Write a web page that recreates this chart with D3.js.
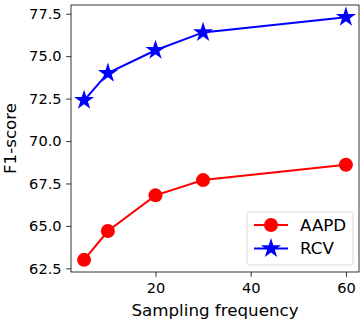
<!DOCTYPE html>
<html>
<head>
<meta charset="utf-8">
<script src="https://cdn.jsdelivr.net/npm/d3@7"></script>
<style>
    html, body { margin: 0; padding: 0; background: #fff; }
    text { font-family: "DejaVu Sans", sans-serif; fill: #000; }
</style>
</head>
<body>
<svg id="chart" width="364" height="320"></svg>
<script>
    // sampling frequencies and F1-scores
    var frequencies = [5, 10, 20, 30, 60];
    var aapdScores = [63.0, 64.7, 66.8, 67.7, 68.6];
    var rcvScores = [72.4, 74.0, 75.35, 76.4, 77.3];
    var xTicks = [20, 40, 60];
    var yTicks = [62.5, 65.0, 67.5, 70.0, 72.5, 75.0, 77.5];

    var series = [
        { name: 'AAPD', values: aapdScores, color: 'red', marker: 'circle' },
        { name: 'RCV', values: rcvScores, color: 'blue', marker: 'star' }
    ];

    var labelSize = '16.7px', tickSize = '14.6px';
    var margin = { top: 5, right: 5, bottom: 48, left: 71 };
    var svg = d3.select('#chart');
    var width = 364 - margin.left - margin.right;
    var height = 320 - margin.top - margin.bottom;

    // matplotlib-like 5% padding around the data
    var pad = function (lo, hi) { var m = (hi - lo) * 0.05; return [lo - m, hi + m]; };
    var allY = aapdScores.concat(rcvScores);
    var x = d3.scaleLinear().domain(pad(d3.min(frequencies), d3.max(frequencies))).range([0, width]);
    var y = d3.scaleLinear().domain(pad(d3.min(allY), d3.max(allY))).range([height, 0]);

    var g = svg.append('g').attr('transform', 'translate(' + margin.left + ',' + margin.top + ')');

    var xAxis = g.append('g')
        .attr('transform', 'translate(0,' + height + ')')
        .call(d3.axisBottom(x).tickValues(xTicks).tickFormat(d3.format('d')).tickSize(4.9).tickPadding(5.5));
    var yAxis = g.append('g')
        .call(d3.axisLeft(y).tickValues(yTicks).tickFormat(d3.format('.1f')).tickSize(4.9).tickPadding(4.5));
    [xAxis, yAxis].forEach(function (ax) {
        ax.select('.domain').remove();
        ax.selectAll('line').attr('stroke', '#000').attr('stroke-width', 0.8);
        ax.selectAll('text').style('font-size', tickSize).style('font-family', '"DejaVu Sans", sans-serif');
    });

    var line = d3.line()
        .x(function (d, i) { return x(frequencies[i]); })
        .y(function (d) { return y(d); });

    var starPath = d3.symbol().type(d3.symbolStar).size(125)();
    var drawMarker = function (sel, s) {
        if (s.marker === 'circle') {
            sel.append('circle').attr('r', 7).attr('fill', s.color);
        } else {
            sel.append('path').attr('d', starPath).attr('fill', s.color);
        }
    };

    series.forEach(function (s) {
        g.append('path')
            .datum(s.values)
            .attr('fill', 'none')
            .attr('stroke', s.color)
            .attr('stroke-width', 2)
            .attr('d', line);
        s.values.forEach(function (v, i) {
            var m = g.append('g').attr('transform', 'translate(' + x(frequencies[i]) + ',' + y(v) + ')');
            drawMarker(m, s);
        });
    });

    // frame
    g.append('rect')
        .attr('width', width).attr('height', height)
        .attr('fill', 'none').attr('stroke', '#000').attr('stroke-width', 0.8);

    // legend, lower right
    var legend = g.append('g').attr('transform', 'translate(' + (width - 112) + ',' + (height - 60) + ')');
    legend.append('rect')
        .attr('width', 106).attr('height', 53)
        .attr('rx', 2.5)
        .attr('fill', '#fff').attr('fill-opacity', 0.8)
        .attr('stroke', '#d0d0d0').attr('stroke-width', 0.8);
    series.forEach(function (s, i) {
        var row = legend.append('g').attr('transform', 'translate(0,' + (13 + i * 23.5) + ')');
        row.append('line')
            .attr('x1', 7).attr('x2', 41)
            .attr('stroke', s.color).attr('stroke-width', 2);
        drawMarker(row.append('g').attr('transform', 'translate(24,0)'), s);
        row.append('text')
            .attr('x', 53).attr('dy', '0.35em')
            .style('font-size', labelSize)
            .text(s.name);
    });

    // axis titles
    svg.append('text')
        .attr('x', margin.left + width / 2).attr('y', 316)
        .attr('text-anchor', 'middle')
        .style('font-size', labelSize)
        .text('Sampling frequency');
    svg.append('text')
        .attr('transform', 'translate(16,' + (margin.top + height / 2) + ') rotate(-90)')
        .attr('text-anchor', 'middle')
        .style('font-size', labelSize)
        .text('F1-score');
</script>
</body>
</html>
